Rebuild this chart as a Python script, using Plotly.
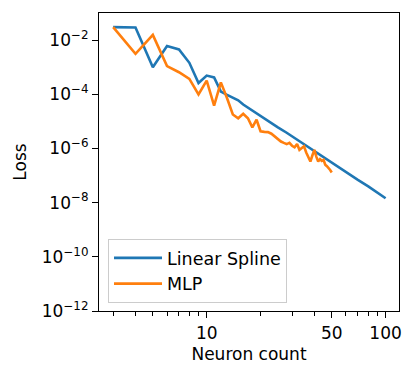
import plotly.graph_objects as go

# Linear Spline
spline_x = [3, 4, 5, 6, 7, 8, 9, 10, 11, 12, 13, 14, 15, 16, 17, 18, 20, 22, 25, 28,
            30, 35, 40, 45, 50, 55, 60, 70, 80, 90, 100]
spline_loss = [3.0e-2, 2.9e-2, 1.0e-3, 6.0e-3, 4.5e-3, 1.45e-3, 2.6e-4, 4.9e-4, 4.2e-4,
               1.26e-4, 9.5e-5, 7.6e-5, 6.0e-5, 4.2e-5, 3.2e-5, 2.5e-5, 1.6e-5, 1.05e-5,
               6.0e-6, 3.8e-6, 2.8e-6, 1.4e-6, 7.9e-7, 4.8e-7, 3.0e-7, 2.0e-7, 1.3e-7,
               6.9e-8, 4.0e-8, 2.4e-8, 1.45e-8]

# MLP
mlp_x = list(range(3, 51))
mlp_loss = [3.0e-2, 3.1e-3, 1.55e-2, 1.1e-3, 6.5e-4, 3.7e-4, 9.8e-5, 3.2e-4, 3.8e-5,
            2.75e-4, 7.1e-5, 1.8e-5, 1.3e-5, 1.9e-5, 1.3e-5, 6.0e-6, 1.15e-5, 4.3e-6,
            4.1e-6, 4.0e-6, 3.5e-6, 2.8e-6, 2.2e-6, 1.8e-6, 1.6e-6, 1.45e-6, 1.6e-6,
            1.26e-6, 1.1e-6, 1.45e-6, 8.9e-7, 1.05e-6, 1.2e-6, 7.1e-7, 5.0e-7, 3.3e-7,
            5.6e-7, 8.9e-7, 5.0e-7, 3.3e-7, 4.0e-7, 3.5e-7, 3.8e-7, 2.5e-7, 2.2e-7,
            1.9e-7, 1.6e-7, 1.3e-7]

x_ticks = [10, 50, 100]
x_ticktext = ["10", "50", "100"]
x_minor = [3, 4, 5, 6, 7, 8, 9, 20, 30, 40, 60, 70, 80, 90]
y_ticks = [1e-2, 1e-4, 1e-6, 1e-8, 1e-10, 1e-12]
y_ticktext = ["10<sup>\u22122</sup>", "10<sup>\u22124</sup>", "10<sup>\u22126</sup>",
              "10<sup>\u22128</sup>", "10<sup>\u221210</sup>", "10<sup>\u221212</sup>"]

FONT = "DejaVu Sans"
FS = 17

fig = go.Figure()
fig.add_trace(go.Scatter(x=spline_x, y=spline_loss, mode="lines", name="Linear Spline",
                         line=dict(color="#1f77b4", width=2.6)))
fig.add_trace(go.Scatter(x=mlp_x, y=mlp_loss, mode="lines", name="MLP",
                         line=dict(color="#ff7f0e", width=2.6)))

axis_common = dict(showline=True, linecolor="black", linewidth=1.2, mirror=True,
                   showgrid=False, zeroline=False, ticks="outside", tickcolor="black",
                   automargin=False,
                   tickfont=dict(family=FONT, size=FS, color="black"))

fig.update_layout(
    template="none",
    width=416, height=378,
    margin=dict(l=99, r=17, t=13, b=67, pad=0),
    paper_bgcolor="white", plot_bgcolor="white",
    font=dict(family=FONT, size=FS, color="black"),
    showlegend=True,
    legend=dict(x=0.03, y=0.027, xanchor="left", yanchor="bottom",
                bgcolor="white", bordercolor="#cccccc", borderwidth=1,
                itemwidth=48,
                font=dict(family=FONT, size=17.5, color="black")),
)
fig.update_xaxes(type="log", range=[0.398, 2.075], tickvals=x_ticks, ticktext=x_ticktext,
                 ticklen=6, tickwidth=1.2,
                 minor=dict(tickvals=x_minor, ticks="outside", ticklen=3.5, tickcolor="black",
                            tickwidth=1, showgrid=False),
                 title=dict(text="Neuron count", font=dict(family=FONT, size=FS, color="black"),
                            standoff=6),
                 **axis_common)
fig.update_yaxes(type="log", range=[-12.0, -1.0], tickvals=y_ticks, ticktext=y_ticktext,
                 ticklen=6, tickwidth=1.2,
                 title=dict(text="Loss", font=dict(family=FONT, size=FS, color="black"),
                            standoff=10),
                 **axis_common)

fig.write_html("out.html",
               config={"displayModeBar": False},
               post_script="document.body.style.margin='0';document.body.style.padding='0';")
